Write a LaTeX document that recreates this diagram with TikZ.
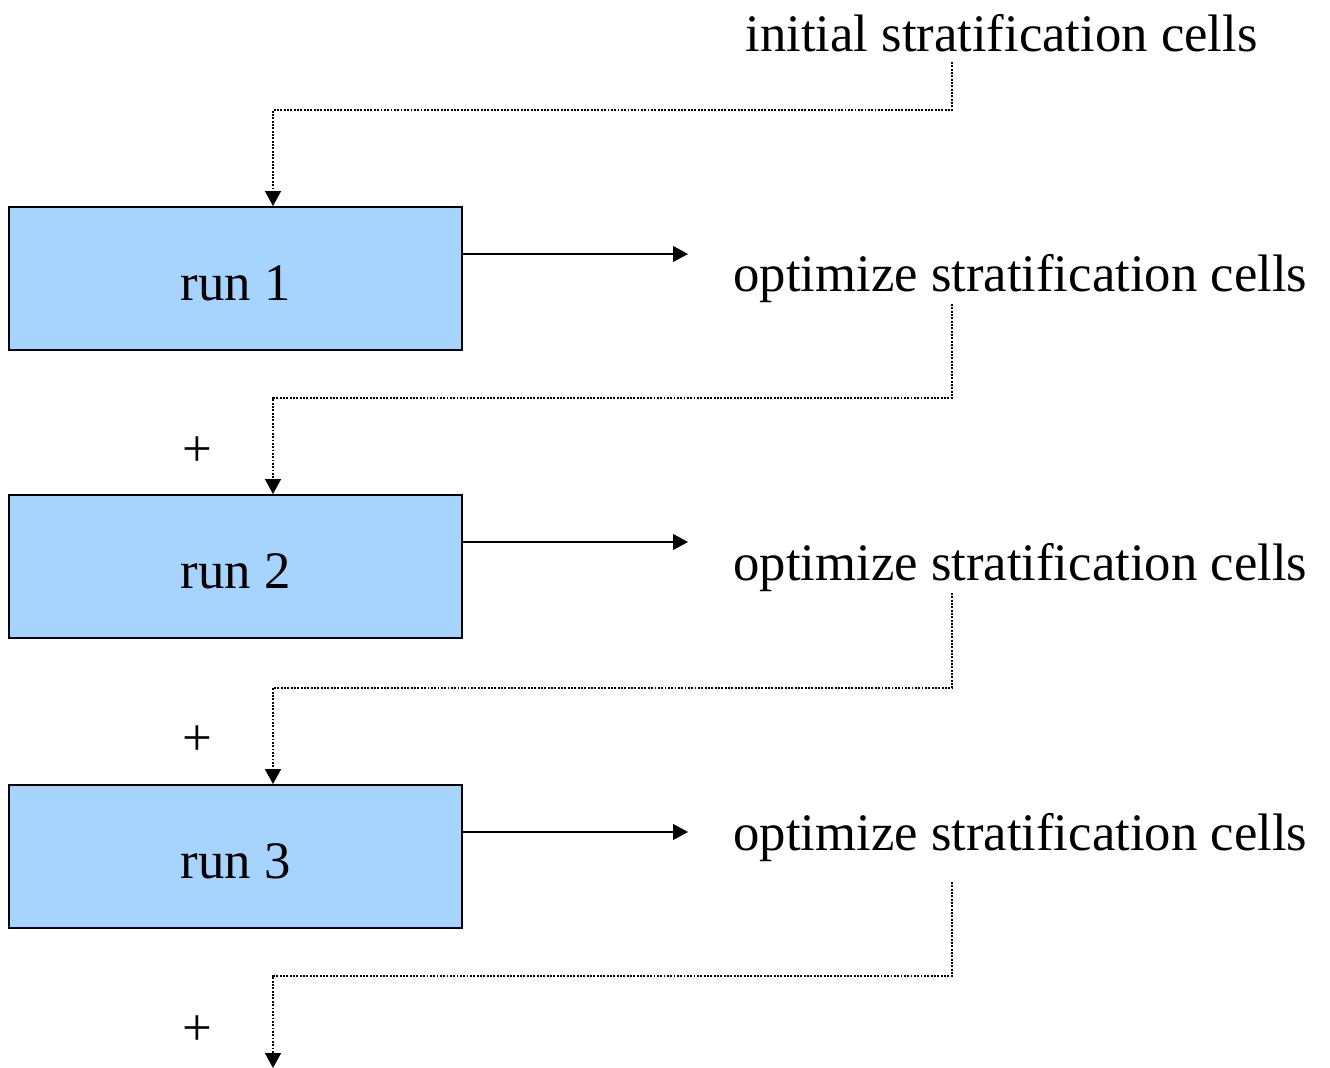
\documentclass[tikz,border=0pt]{standalone}
\usepackage{fontspec}
\setmainfont{Liberation Serif}
\usetikzlibrary{arrows.meta}
\definecolor{runblue}{RGB}{166,212,255}
\begin{document}
\begin{tikzpicture}[x=0.02cm,y=-0.02cm,
		font=\fontsize{30}{36}\selectfont,
		run/.style={draw,line width=1.1pt,fill=runblue,minimum width=9.06cm,minimum height=2.86cm,inner sep=0pt,text height=25.5pt,text depth=0pt},
		txt/.style={anchor=base west,inner sep=0pt},
		flow/.style={line width=0.8pt,-{Triangle[length=8.5pt,width=9pt]}},
		dotflow/.style={line width=1.2pt,dash pattern=on 1.1pt off 0.8pt,-{Triangle[length=8.5pt,width=9pt]}}]
			\useasboundingbox (0,0) rectangle (1330,1068);
			
			\node[txt] (t0) at (745,52) {initial stratification cells};
			
			\node[run] (r1) at (235.5,278.5) {run 1};
			\node[run] (r2) at (235.5,566.5) {run 2};
			\node[run] (r3) at (235.5,856.5) {run 3};
			
			\node[txt] (o1) at (733,292) {optimize stratification cells};
			\node[txt] (o2) at (733,580) {optimize stratification cells};
			\node[txt] (o3) at (733,850) {optimize stratification cells};
			
			\node (p1) at (197,452) {+};
			\node (p2) at (197,741) {+};
			\node (p3) at (197,1031) {+};
			
			\coordinate (a1) at (688,254);
			\coordinate (a2) at (688,542);
			\coordinate (a3) at (688,832);
			
			\coordinate (s0) at (952,62);
			\coordinate (s1) at (952,304);
			\coordinate (s2) at (952,593);
			\coordinate (s3) at (952,882);
			
			\coordinate (b0) at (273,110);
			\coordinate (b1) at (273,398);
			\coordinate (b2) at (273,688);
			\coordinate (b3) at (273,976);
			\coordinate (e3) at (273,1068);
			
			\draw[flow] (r1.east |- a1) -- (a1);
			\draw[flow] (r2.east |- a2) -- (a2);
			\draw[flow] (r3.east |- a3) -- (a3);
			
			\draw[dotflow] (s0) |- (b0) -- (r1.north -| b0);
			\draw[dotflow] (s1) |- (b1) -- (r2.north -| b1);
			\draw[dotflow] (s2) |- (b2) -- (r3.north -| b2);
			\draw[dotflow] (s3) |- (b3) -- (e3);
		\end{tikzpicture}
\end{document}
